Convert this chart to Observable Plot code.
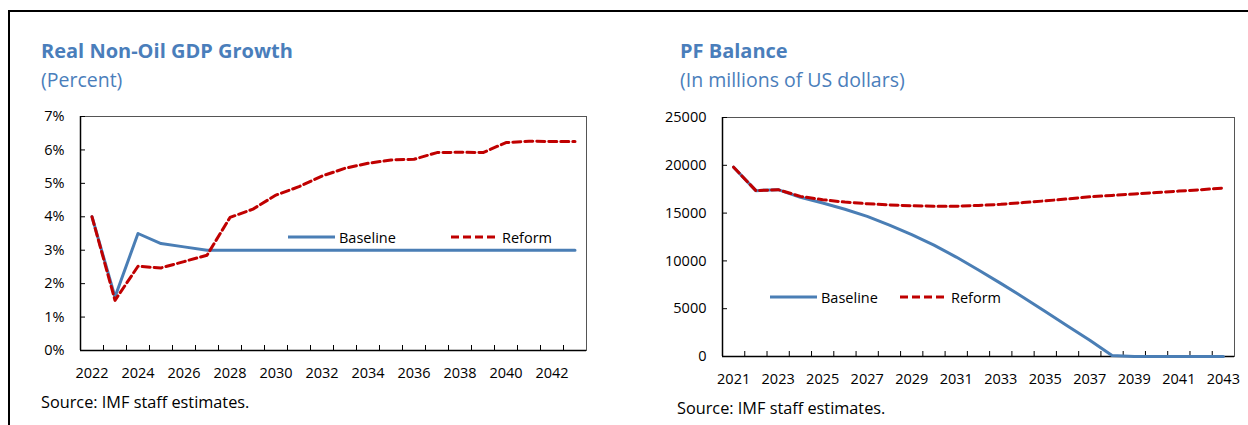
<!DOCTYPE html>
<html>
<head>
<meta charset="utf-8">
<script src="https://cdn.jsdelivr.net/npm/d3@7"></script>
<script src="https://cdn.jsdelivr.net/npm/@observablehq/plot@0.6"></script>
<style>
  body { margin: 0; background: #fff; font-family: "Open Sans", sans-serif; }
  #page { position: relative; width: 1248px; height: 425px; overflow: hidden; background: #fff; }
  .border { position: absolute; left: 8px; top: 10px; width: 1300px; height: 500px; border-top: 2px solid #000; border-left: 2px solid #000; }
  .title { position: absolute; font-weight: 700; color: #4A7EBB; font-size: 20px; line-height: 24px; white-space: nowrap; }
  .sub { position: absolute; color: #4A7EBB; font-size: 19.5px; line-height: 24px; white-space: nowrap; }
  .src { position: absolute; font-size: 16.3px; line-height: 20px; color: #000; white-space: nowrap; }
  .chart { position: absolute; }
  .leg { position: absolute; display: flex; align-items: center; height: 20px; font-size: 14.5px; color: #000; white-space: nowrap; }
  .leg svg { display: block; margin-right: 4px; }
</style>
</head>
<body>
<div id="page">
  <div class="border"></div>
  <div class="title" style="left:41px;top:39px;">Real Non-Oil GDP Growth</div>
  <div class="sub" style="left:41px;top:68px;">(Percent)</div>
  <div class="src" style="left:41px;top:392px;">Source: IMF staff estimates.</div>
  <div class="title" style="left:680px;top:39px;">PF Balance</div>
  <div class="sub" style="left:680px;top:68px;">(In millions of US dollars)</div>
  <div class="src" style="left:677px;top:398px;">Source: IMF staff estimates.</div>
  <div id="c1" class="chart" style="left:0px;top:100px;"></div>
  <div id="c2" class="chart" style="left:620px;top:100px;"></div>
</div>
<script>
// ---------- Data: Real Non-Oil GDP Growth (percent) ----------
const gdpYears = [2022, 2023, 2024, 2025, 2026, 2027, 2028, 2029, 2030, 2031, 2032,
                  2033, 2034, 2035, 2036, 2037, 2038, 2039, 2040, 2041, 2042, 2043];
const gdpBaseline = [4.0, 1.6, 3.5, 3.2, 3.1, 3.0, 3.0, 3.0, 3.0, 3.0, 3.0,
                     3.0, 3.0, 3.0, 3.0, 3.0, 3.0, 3.0, 3.0, 3.0, 3.0, 3.0];
const gdpReform = [4.0, 1.5, 2.52, 2.47, 2.66, 2.85, 3.98, 4.23, 4.65, 4.9, 5.22,
                   5.45, 5.6, 5.7, 5.72, 5.92, 5.93, 5.92, 6.22, 6.26, 6.25, 6.25];
const gdpYTicks = [0, 1, 2, 3, 4, 5, 6, 7];
const gdpXLabels = [2022, 2024, 2026, 2028, 2030, 2032, 2034, 2036, 2038, 2040, 2042];

// ---------- Data: PF Balance (millions of US dollars) ----------
const pfYears = [2021, 2022, 2023, 2024, 2025, 2026, 2027, 2028, 2029, 2030, 2031, 2032,
                 2033, 2034, 2035, 2036, 2037, 2038, 2039, 2040, 2041, 2042, 2043];
const pfBaseline = [19800, 17350, 17450, 16650, 16050, 15400, 14650, 13750, 12750, 11650, 10400, 9050,
                    7650, 6200, 4700, 3200, 1700, 100, 0, 0, 0, 0, 0];
const pfReform = [19800, 17350, 17450, 16750, 16400, 16150, 15980, 15850, 15760, 15720, 15720, 15800,
                  15920, 16100, 16280, 16480, 16700, 16850, 17000, 17150, 17300, 17450, 17620];
const pfYTicks = [0, 5000, 10000, 15000, 20000, 25000];
const pfXLabels = [2021, 2023, 2025, 2027, 2029, 2031, 2033, 2035, 2037, 2039, 2041, 2043];

const seriesNames = ["Baseline", "Reform"];
const BLUE = "#4A7EB5", RED = "#C00000";

function makeChart({years, baseline, reform, yTicks, yFmt, xLabels, width, height, mt, mr, mb, ml}) {
  const rows = years.map((yr, i) => ({year: yr, baseline: baseline[i], reform: reform[i]}));
  const bounds = years.slice(1).map(y => y - 0.5);
  const xDomain = [years[0] - 0.5, years[years.length - 1] + 0.5];
  const yDomain = [yTicks[0], yTicks[yTicks.length - 1]];
  const pw = width - ml - mr, ph = height - mt - mb;
  return Plot.plot({
    width, height,
    marginTop: mt, marginRight: mr, marginBottom: mb, marginLeft: ml,
    style: {fontFamily: "'Open Sans', sans-serif", fontSize: "14.5px", color: "#000", background: "transparent", overflow: "visible"},
    x: {domain: xDomain, axis: null},
    y: {domain: yDomain, axis: null},
    marks: [
      Plot.frame({stroke: "#555", strokeWidth: 1}),
      Plot.tickX(bounds, {x: d => d, stroke: "#000", strokeWidth: 1, insetTop: ph - 5}),
      Plot.tickY(yTicks, {y: d => d, stroke: "#000", strokeWidth: 1, insetRight: pw - 5}),
      Plot.ruleY([yDomain[0]], {stroke: "#000", strokeWidth: 1.5}),
      Plot.ruleX([xDomain[0]], {stroke: "#000", strokeWidth: 1.5}),
      Plot.axisX({ticks: xLabels, tickSize: 0, tickPadding: 17, tickFormat: d => String(d), fill: "#000", label: null}),
      Plot.axisY({ticks: yTicks, tickSize: 0, tickPadding: 16, tickFormat: yFmt, fill: "#000", label: null}),
      Plot.line(rows, {x: "year", y: "baseline", stroke: BLUE, strokeWidth: 3, strokeLinejoin: "round"}),
      Plot.line(rows, {x: "year", y: "reform", stroke: RED, strokeWidth: 3, strokeLinejoin: "round", strokeDasharray: "8,4"})
    ]
  });
}

document.getElementById("c1").appendChild(makeChart({
  years: gdpYears, baseline: gdpBaseline, reform: gdpReform,
  yTicks: gdpYTicks, yFmt: d => d + "%", xLabels: gdpXLabels,
  width: 600, height: 300, mt: 16, mr: 14, mb: 50, ml: 80
}));
document.getElementById("c2").appendChild(makeChart({
  years: pfYears, baseline: pfBaseline, reform: pfReform,
  yTicks: pfYTicks, yFmt: d => String(d), xLabels: pfXLabels,
  width: 628, height: 300, mt: 17, mr: 14, mb: 44, ml: 102
}));

// ---------- Legends (inside plot areas) ----------
function legendItem(x, y, name) {
  const div = document.createElement("div");
  div.className = "leg";
  div.style.left = x + "px";
  div.style.top = (y - 10) + "px";
  const dash = name === "Reform" ? ' stroke-dasharray="8,4"' : '';
  const col = name === "Reform" ? RED : BLUE;
  div.innerHTML = `<svg width="47" height="6"><line x1="0" y1="3" x2="47" y2="3" stroke="${col}" stroke-width="3"${dash}/></svg><span>${name}</span>`;
  document.getElementById("page").appendChild(div);
}
legendItem(288, 237, seriesNames[0]);
legendItem(451, 237, seriesNames[1]);
legendItem(770, 297, seriesNames[0]);
legendItem(900, 297, seriesNames[1]);
</script>
</body>
</html>
